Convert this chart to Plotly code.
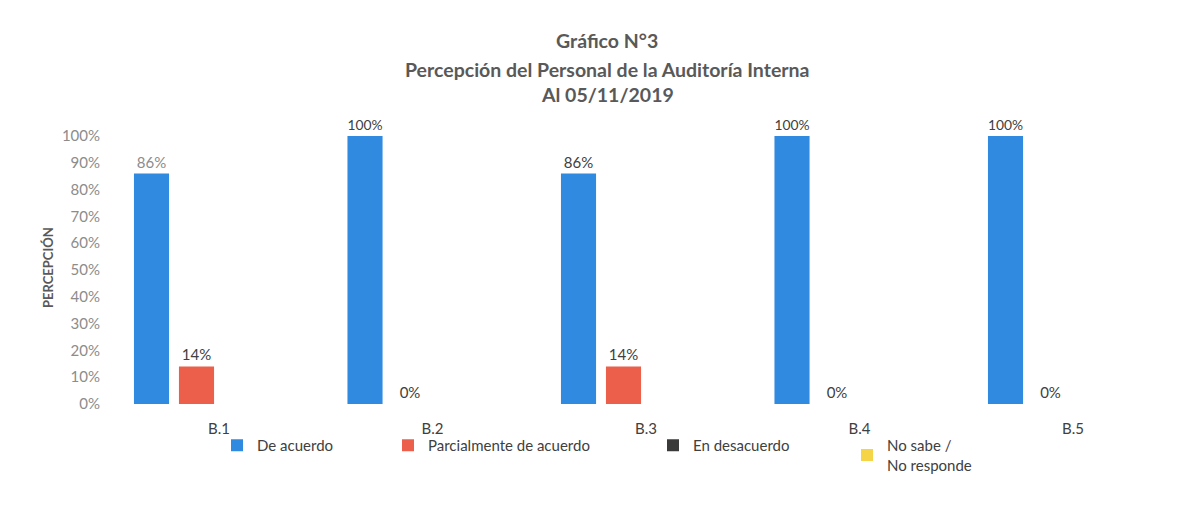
import plotly.graph_objects as go

categories = ["B.1", "B.2", "B.3", "B.4", "B.5"]
de_acuerdo = [0.86, 1.00, 0.86, 1.00, 1.00]
parcialmente = [0.14, 0.00, 0.14, 0.00, 0.00]
en_desacuerdo = [0.00, 0.00, 0.00, 0.00, 0.00]
no_sabe = [0.00, 0.00, 0.00, 0.00, 0.00]
series_names = ["De acuerdo", "Parcialmente de acuerdo", "En desacuerdo", "No sabe /<br>No responde"]
colors = ["#2F8AE0", "#EC5F4A", "#3A3A3A", "#F5D547"]

FONT = "Lato"
DARK = "#404040"
GRAY = "#8C8C8C"
TITLE_C = "#595959"

W, H = 1193, 517
OFF = 8  # page body margin offset
ML, MR, MT, MB = 93, 17, 128, 121
PW, PH = W - ML - MR, H - MT - MB

fig = go.Figure()
fig.add_trace(go.Bar(
    x=categories, y=de_acuerdo, name=series_names[0], marker=dict(color=colors[0], line_width=0),
    texttemplate="%{y:.0%}", textposition="outside", cliponaxis=False,
    textfont=dict(family=FONT, size=15, color=[GRAY, DARK, DARK, DARK, DARK]),
    legend="legend"))
fig.add_trace(go.Bar(
    x=categories, y=parcialmente, name=series_names[1], marker=dict(color=colors[1], line_width=0),
    texttemplate="%{y:.0%}", textposition="outside", cliponaxis=False,
    textfont=dict(family=FONT, size=15, color=DARK),
    legend="legend2"))
fig.add_trace(go.Bar(
    x=categories, y=en_desacuerdo, name=series_names[2], marker=dict(color=colors[2], line_width=0),
    legend="legend3"))
fig.add_trace(go.Bar(
    x=categories, y=no_sabe, name=series_names[3], marker=dict(color=colors[3], line_width=0),
    legend="legend4"))


def leg(text_x_screen, y_top_fig):
    return dict(xref="container", yref="container", x=(text_x_screen - OFF - 40) / W,
                y=1 - y_top_fig / H, xanchor="left", yanchor="top", bgcolor="rgba(0,0,0,0)",
                font=dict(family=FONT, size=15, color=DARK), itemclick=False)


unit = 213.5
x0 = -(211 - ML) / unit
x1 = x0 + PW / unit

fig.update_layout(
    width=W, height=H,
    paper_bgcolor="white", plot_bgcolor="white",
    font=dict(family=FONT, color=DARK),
    barmode="group", bargap=0.157, bargroupgap=0.22,
    margin=dict(l=ML, r=MR, t=MT, b=MB, autoexpand=False),
    showlegend=True,
    legend=leg(257, 421),
    legend2=leg(428, 421),
    legend3=leg(693, 421),
    legend4=leg(887, 421),
    xaxis=dict(range=[x0, x1], showgrid=False, showline=False, zeroline=False,
               ticks="", tickfont=dict(family=FONT, size=15, color=DARK), ticklabelstandoff=14),
    yaxis=dict(range=[0, 1.0], dtick=0.1, tickformat=".0%", showgrid=False, showline=False,
               zeroline=False, tickfont=dict(family=FONT, size=15, color=GRAY)),
)

# y-axis title
fig.add_annotation(text="<b>PERCEPCIÓN</b>", xref="paper", yref="paper",
                   x=(48 - OFF - ML) / PW, y=(MT + PH - (268 - OFF)) / PH,
                   textangle=-90, xanchor="center", yanchor="middle", showarrow=False,
                   font=dict(family=FONT, size=13, color=TITLE_C))

title_lines = ["<b>Gráfico N°3</b>", "<b>Percepción del Personal de la Auditoría Interna</b>",
               "<b>Al 05/11/2019</b>"]
for line, yy in zip(title_lines, [40, 69, 95]):
    fig.add_annotation(text=line, xref="paper", yref="paper", x=(607 - OFF - ML) / PW,
                       y=(MT + PH - (yy - OFF)) / PH, xanchor="center", yanchor="middle",
                       showarrow=False, font=dict(family=FONT, size=19.5, color=TITLE_C))

fig.write_html("out.html")
